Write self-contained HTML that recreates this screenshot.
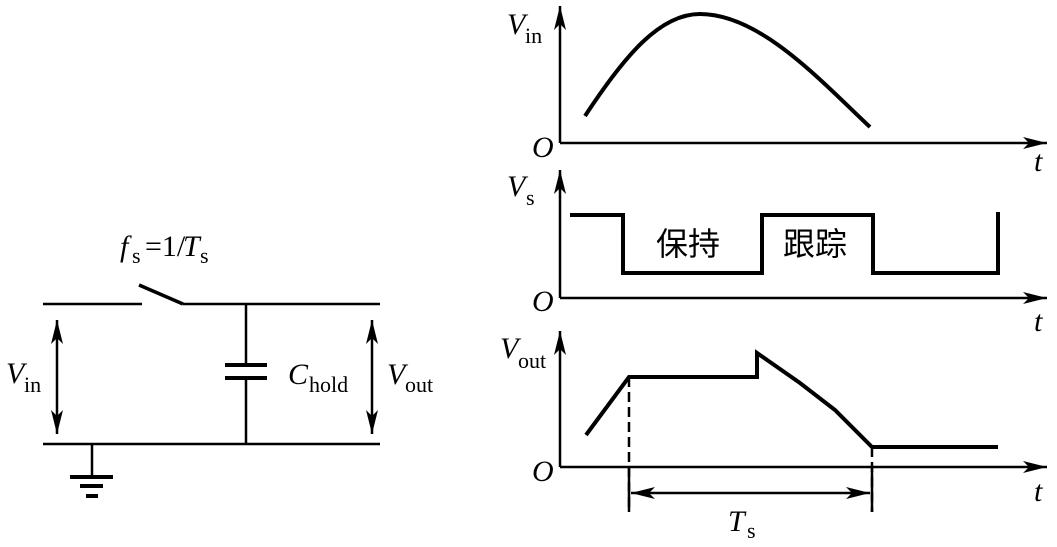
<!DOCTYPE html>
<html><head><meta charset="utf-8"><style>
html,body{margin:0;padding:0;background:#fff;}
svg text{font-family:"Liberation Serif","Noto Serif CJK SC",serif;fill:#000;}
</style></head><body>
<svg width="1057" height="542" viewBox="0 0 1057 542" xmlns="http://www.w3.org/2000/svg">
<defs>
<marker id="a" viewBox="0 0 24 12" refX="24" refY="6" markerWidth="24" markerHeight="12" markerUnits="userSpaceOnUse" orient="auto-start-reverse"><path d="M0,0 L24,6 L0,12 L6,6 Z" fill="#000"/></marker>
</defs>
<g stroke="#000" fill="none" stroke-width="2.5">
<line x1="43" y1="304" x2="142" y2="304"/>
<line x1="139" y1="285" x2="183" y2="304" stroke-width="3.5"/>
<line x1="183" y1="304" x2="380" y2="304"/>
<line x1="43" y1="444" x2="380" y2="444"/>
<line x1="246" y1="304" x2="246" y2="365"/>
<line x1="246" y1="378" x2="246" y2="444"/>
<line x1="225" y1="365" x2="267" y2="365" stroke-width="4"/>
<line x1="225" y1="378" x2="267" y2="378" stroke-width="4"/>
<line x1="57" y1="320" x2="57" y2="434" marker-start="url(#a)" marker-end="url(#a)"/>
<line x1="372" y1="320" x2="372" y2="434" marker-start="url(#a)" marker-end="url(#a)"/>
<line x1="92" y1="444" x2="92" y2="477"/>
<line x1="70" y1="477" x2="113" y2="477" stroke-width="4"/>
<line x1="80" y1="486" x2="103" y2="486" stroke-width="4"/>
<line x1="86" y1="496" x2="98" y2="496" stroke-width="4"/>
<line x1="560" y1="143" x2="560" y2="6" marker-end="url(#a)"/>
<line x1="560" y1="143" x2="1047" y2="143" marker-end="url(#a)"/>
<line x1="560" y1="298" x2="560" y2="170" marker-end="url(#a)"/>
<line x1="560" y1="298" x2="1047" y2="298" marker-end="url(#a)"/>
<line x1="560" y1="467" x2="560" y2="331" marker-end="url(#a)"/>
<line x1="560" y1="467" x2="1047" y2="467" marker-end="url(#a)"/>
<path d="M585,116 C625,55 660,14 700,14 C760,14 820,80 870,127" stroke-width="4"/>
<path d="M570,215 H623 V273 H762 V215 H873 V273 H998 V212" stroke-width="4"/>
<path d="M586,435 L629,377 H757 V353 L800,383 L835,410 L872,447 H998" stroke-width="4"/>
<line x1="629" y1="377" x2="629" y2="512" stroke-dasharray="10,5"/>
<line x1="872" y1="447" x2="872" y2="512" stroke-dasharray="10,5"/>
<line x1="629" y1="467" x2="629" y2="512"/>
<line x1="872" y1="467" x2="872" y2="512"/>
<line x1="631" y1="493" x2="870" y2="493" marker-start="url(#a)" marker-end="url(#a)"/>
</g>
<g font-size="30">
<text x="120" y="256" font-style="italic">f</text><text x="132" y="263" font-size="22">s</text><text x="145" y="256">=1/</text><text x="183" y="256" font-style="italic">T</text><text x="200" y="263" font-size="22">s</text>
<text x="6" y="383" font-style="italic">V</text><text x="24" y="392" font-size="22">in</text>
<text x="288" y="384" font-style="italic">C</text><text x="309" y="392" font-size="22">hold</text>
<text x="387" y="384" font-style="italic">V</text><text x="405" y="392" font-size="22">out</text>
<text x="507" y="34" font-style="italic">V</text><text x="525" y="43" font-size="22">in</text>
<text x="507" y="196" font-style="italic">V</text><text x="526" y="205" font-size="22">s</text>
<text x="500" y="358" font-style="italic">V</text><text x="518" y="368" font-size="22">out</text>
<text x="532" y="157" font-style="italic">O</text>
<text x="532" y="311" font-style="italic">O</text>
<text x="532" y="481" font-style="italic">O</text>
<text x="1034" y="171" font-style="italic">t</text>
<text x="1034" y="331" font-style="italic">t</text>
<text x="1034" y="501" font-style="italic">t</text>
<text x="728" y="531" font-style="italic">T</text><text x="747" y="538" font-size="22">s</text>
<text x="656" y="255" font-size="32" style="font-family:'Noto Sans CJK SC',sans-serif">保持</text>
<text x="783" y="255" font-size="32" style="font-family:'Noto Sans CJK SC',sans-serif">跟踪</text>
</g>
</svg>
</body></html>
